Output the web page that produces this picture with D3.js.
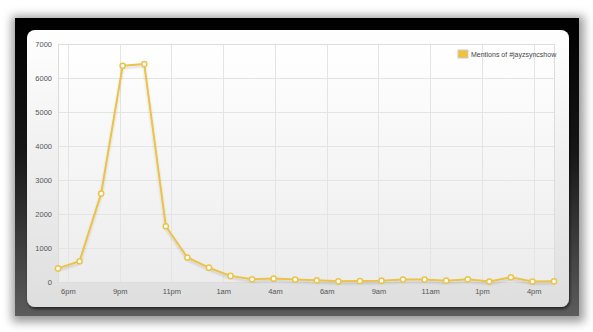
<!DOCTYPE html>
<html>
<head>
<meta charset="utf-8">
<script src="https://cdn.jsdelivr.net/npm/d3@7"></script>
<style>
  html, body { margin: 0; padding: 0; background: #fff; }
  svg { display: block; font-family: "Liberation Sans", Arial, sans-serif; }
</style>
</head>
<body>
<div id="chart"></div>
<script>
// hourly mentions, starting just before 6pm
const hours = d3.range(24);
const mentions = [400, 610, 2600, 6360, 6410, 1640, 720, 420, 180, 80, 100, 70,
                  50, 20, 30, 40, 70, 70, 40, 80, 15, 140, 15, 20];
const yTicks = [0, 1000, 2000, 3000, 4000, 5000, 6000, 7000];
const xTickLabels = ["6pm", "9pm", "11pm", "1am", "4am", "6am", "9am", "11am", "1pm", "4pm"];
const xTickHours = [0.46, 2.86, 5.26, 7.66, 10.06, 12.46, 14.86, 17.26, 19.66, 22.06];
const seriesName = "Mentions of #jayzsyncshow";

const width = 593, height = 332;
const margin = { top: 44, right: 39, bottom: 50, left: 58 };

const svg = d3.select("#chart").append("svg")
    .attr("width", width)
    .attr("height", height);

const defs = svg.append("defs");

const frameGrad = defs.append("linearGradient").attr("id", "frameGrad")
    .attr("x1", 0).attr("y1", 0).attr("x2", 0).attr("y2", 1);
frameGrad.append("stop").attr("offset", "0%").attr("stop-color", "#000");
frameGrad.append("stop").attr("offset", "45%").attr("stop-color", "#161616");
frameGrad.append("stop").attr("offset", "100%").attr("stop-color", "#5c5c5c");

const panelGrad = defs.append("linearGradient").attr("id", "panelGrad")
    .attr("x1", 0).attr("y1", 0).attr("x2", 0).attr("y2", 1);
panelGrad.append("stop").attr("offset", "0%").attr("stop-color", "#ffffff");
panelGrad.append("stop").attr("offset", "100%").attr("stop-color", "#dedede");

const plotGrad = defs.append("linearGradient").attr("id", "plotGrad")
    .attr("x1", 0).attr("y1", 0).attr("x2", 0).attr("y2", 1);
plotGrad.append("stop").attr("offset", "0%").attr("stop-color", "#ffffff");
plotGrad.append("stop").attr("offset", "100%").attr("stop-color", "#ececec");

const blur = defs.append("filter").attr("id", "blur")
    .attr("x", "-10%").attr("y", "-10%").attr("width", "120%").attr("height", "120%");
blur.append("feGaussianBlur").attr("stdDeviation", 5);

const panelShadow = defs.append("filter").attr("id", "panelShadow")
    .attr("x", "-5%").attr("y", "-5%").attr("width", "110%").attr("height", "115%");
panelShadow.append("feDropShadow")
    .attr("dx", 1).attr("dy", 2).attr("stdDeviation", 1.5)
    .attr("flood-color", "#000").attr("flood-opacity", 0.6);

const lineShadow = defs.append("filter").attr("id", "lineShadow");
lineShadow.append("feDropShadow")
    .attr("dx", 0).attr("dy", 2).attr("stdDeviation", 1.2)
    .attr("flood-color", "#000").attr("flood-opacity", 0.15);

// outer frame with soft shadow
svg.append("rect")
    .attr("x", 12).attr("y", 16).attr("width", 572).attr("height", 306)
    .attr("fill", "#999").attr("filter", "url(#blur)");
svg.append("rect")
    .attr("x", 15).attr("y", 18).attr("width", 564).attr("height", 298)
    .attr("fill", "url(#frameGrad)");

// white panel
svg.append("rect")
    .attr("x", 27).attr("y", 30).attr("width", 542).attr("height", 277)
    .attr("rx", 8)
    .attr("fill", "url(#panelGrad)")
    .attr("filter", "url(#panelShadow)");

const x = d3.scaleLinear()
    .domain([0, 23])
    .range([margin.left, width - margin.right]);

const y = d3.scaleLinear()
    .domain([0, 7000])
    .range([height - margin.bottom, margin.top]);

// plot background
svg.append("rect")
    .attr("x", x(0)).attr("y", y(7000))
    .attr("width", x(23) - x(0)).attr("height", y(0) - y(7000))
    .attr("fill", "url(#plotGrad)");

// grid
svg.append("g")
    .selectAll("line")
    .data(yTicks)
    .join("line")
    .attr("x1", x(0)).attr("x2", x(23))
    .attr("y1", d => y(d) + 0.5).attr("y2", d => y(d) + 0.5)
    .attr("stroke", "#e4e4e4");

svg.append("g")
    .selectAll("line")
    .data(xTickHours)
    .join("line")
    .attr("x1", d => Math.round(x(d)) + 0.5).attr("x2", d => Math.round(x(d)) + 0.5)
    .attr("y1", y(7000)).attr("y2", y(0))
    .attr("stroke", "#e4e4e4");

// plot border
svg.append("rect")
    .attr("x", x(0) + 0.5).attr("y", y(7000) + 0.5)
    .attr("width", x(23) - x(0)).attr("height", y(0) - y(7000))
    .attr("fill", "none")
    .attr("stroke", "#dcdcdc");

// Y Axis
svg.append("g")
    .attr("transform", `translate(${margin.left},0)`)
    .call(d3.axisLeft(y).tickValues(yTicks).tickSize(0).tickPadding(6).tickFormat(d3.format("d")))
    .call(g => g.select(".domain").remove())
    .selectAll("text")
    .style("font-size", "7.5px")
    .style("fill", "#555");

// X Axis
svg.append("g")
    .attr("transform", `translate(0,${height - margin.bottom})`)
    .call(d3.axisBottom(x).tickValues(xTickHours).tickSize(0).tickPadding(7)
        .tickFormat((d, i) => xTickLabels[i]))
    .call(g => g.select(".domain").remove())
    .selectAll("text")
    .style("font-size", "7.5px")
    .style("fill", "#555");

// line
const line = d3.line()
    .x((d, i) => x(hours[i]))
    .y(d => y(d));

svg.append("path")
    .datum(mentions)
    .attr("d", line)
    .attr("fill", "none")
    .attr("stroke", "#ebc348")
    .attr("stroke-width", 2)
    .attr("stroke-linejoin", "round")
    .attr("filter", "url(#lineShadow)");

svg.append("g")
    .selectAll("circle")
    .data(mentions)
    .join("circle")
    .attr("cx", (d, i) => x(hours[i]))
    .attr("cy", d => y(d))
    .attr("r", 2.6)
    .attr("fill", "#fff")
    .attr("stroke", "#ebc348")
    .attr("stroke-width", 1.5);

// legend
const legend = svg.append("g")
    .attr("transform", `translate(${x(23) - 96},50)`);
legend.append("rect")
    .attr("x", 0).attr("y", 0)
    .attr("width", 10).attr("height", 8)
    .attr("fill", "#f0c23c")
    .attr("stroke", "#ccc")
    .attr("stroke-width", 1);
legend.append("text")
    .attr("x", 13).attr("y", 7)
    .text(seriesName)
    .style("font-size", "7px")
    .style("fill", "#444");
</script>
</body>
</html>
